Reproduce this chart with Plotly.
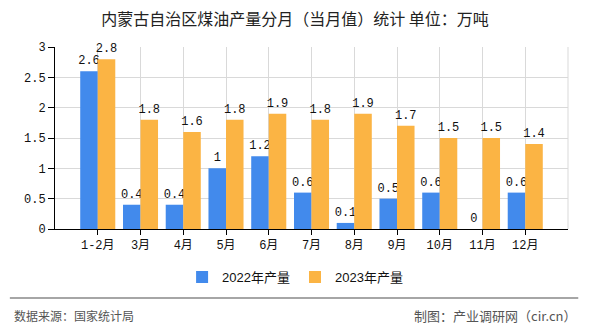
import plotly.graph_objects as go

categories = ["1-2月", "3月", "4月", "5月", "6月", "7月", "8月", "9月", "10月", "11月", "12月"]
values_2022 = [2.6, 0.4, 0.4, 1, 1.2, 0.6, 0.1, 0.5, 0.6, 0, 0.6]
values_2023 = [2.8, 1.8, 1.6, 1.8, 1.9, 1.8, 1.9, 1.7, 1.5, 1.5, 1.4]
series_names = ["2022年产量", "2023年产量"]
y_ticks = [0, 0.5, 1, 1.5, 2, 2.5, 3]
title_text = "内蒙古自治区煤油产量分月（当月值）统计 单位：万吨"
source_text = "数据来源：国家统计局"
credit_text = "制图：产业调研网（cir.cn）"

MONO = "Liberation Mono, Noto Sans CJK SC, monospace"
CJK = "Noto Sans CJK SC, sans-serif"

fig = go.Figure()
for name, vals, color in [(series_names[0], values_2022, "#428AEC"),
                          (series_names[1], values_2023, "#FBB444")]:
    fig.add_trace(go.Bar(
        x=categories, y=vals, name=name, marker_color=color,
        marker_line_width=0,
        text=[f"{v:g}" for v in vals], textposition="outside",
        constraintext="none",
        textfont=dict(family=MONO, size=12, color="#111"),
        cliponaxis=False,
    ))

fig.update_layout(
    width=590, height=330,
    margin=dict(l=55, r=22, t=47, b=101, autoexpand=False),
    paper_bgcolor="white", plot_bgcolor="white",
    barmode="group", bargap=0.18, bargroupgap=0,
    title=dict(text=title_text, x=0.5, xanchor="center", y=0.94, yanchor="middle",
               font=dict(family=CJK, size=16, color="#222")),
    showlegend=True,
    legend=dict(orientation="h", x=0.468, xanchor="center",
                y=-0.264, yanchor="middle",
                font=dict(family="Liberation Sans, " + CJK, size=13, color="#111"),
                itemwidth=30, traceorder="normal", bgcolor="rgba(0,0,0,0)"),
)
fig.update_xaxes(
    type="category", range=[-1, 11], tickangle=0, automargin=False,
    showline=True, linecolor="black", linewidth=1,
    ticks="outside", ticklen=5, tickcolor="black",
    showgrid=True, gridcolor="#D9D9D9", gridwidth=1,
    tickfont=dict(family=MONO, size=12, color="#111"),
)
fig.update_yaxes(
    range=[0, 3], tickvals=y_ticks, ticktext=[f"{v:g}" for v in y_ticks],
    automargin=False,
    showline=True, linecolor="black", linewidth=1,
    ticks="outside", ticklen=6, tickcolor="black",
    showgrid=True, gridcolor="#D9D9D9", gridwidth=1,
    zeroline=False,
    tickfont=dict(family=MONO, size=12, color="#111"),
)

# right plot border (light)
fig.add_shape(type="line", xref="paper", yref="paper", x0=1, x1=1, y0=0, y1=1,
              line=dict(color="#D9D9D9", width=1))
# footer separator
fig.add_shape(type="line", xref="paper", yref="paper", x0=-0.088, x1=1.02,
              y0=-0.379, y1=-0.379, line=dict(color="#888", width=1.5))
fig.add_annotation(text=source_text, xref="paper", yref="paper", x=-0.084, y=-0.478,
                   xanchor="left", yanchor="middle", showarrow=False,
                   font=dict(family=CJK, size=12, color="#555"))
fig.add_annotation(text=credit_text, xref="paper", yref="paper", x=1.02, y=-0.478,
                   xanchor="right", yanchor="middle", showarrow=False,
                   font=dict(family=CJK, size=13, color="#555"))

fig.write_html("out.html")
